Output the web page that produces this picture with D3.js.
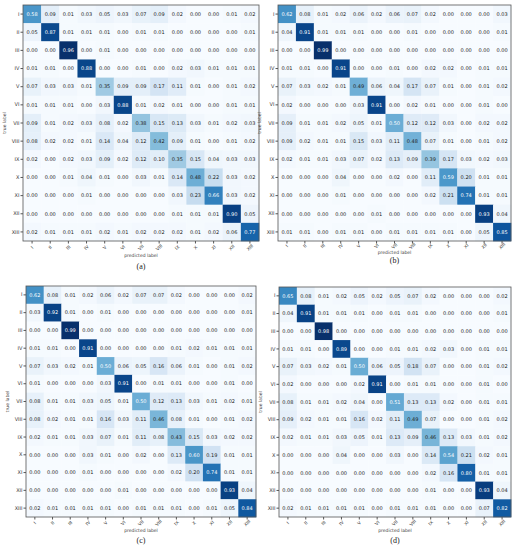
<!DOCTYPE html>
<html>
<head>
<meta charset='utf-8'>
<title>confusion matrices</title>
<script src='https://cdn.jsdelivr.net/npm/d3@7'></script>
<style>
  body { margin: 0; background: #fff; }
  svg text { font-family: 'DejaVu Sans', sans-serif; }
</style>
</head>
<body>
<svg width='517' height='550'></svg>
<script>
// class labels
const labels = ['I', 'II', 'III', 'IV', 'V', 'VI', 'VII', 'VIII', 'IX', 'X', 'XI', 'XII', 'XIII']

// (a)
const matrixA = [
  [0.58, 0.09, 0.01, 0.03, 0.05, 0.03, 0.07, 0.09, 0.02, 0.00, 0.00, 0.01, 0.02],
  [0.05, 0.87, 0.01, 0.01, 0.01, 0.00, 0.01, 0.01, 0.00, 0.00, 0.00, 0.00, 0.01],
  [0.00, 0.00, 0.96, 0.00, 0.01, 0.00, 0.00, 0.00, 0.00, 0.00, 0.00, 0.00, 0.00],
  [0.01, 0.01, 0.00, 0.88, 0.00, 0.00, 0.01, 0.00, 0.02, 0.03, 0.01, 0.01, 0.01],
  [0.07, 0.03, 0.03, 0.01, 0.35, 0.09, 0.09, 0.17, 0.11, 0.01, 0.00, 0.01, 0.02],
  [0.01, 0.01, 0.01, 0.00, 0.03, 0.88, 0.01, 0.02, 0.01, 0.00, 0.00, 0.01, 0.01],
  [0.09, 0.01, 0.02, 0.03, 0.08, 0.02, 0.38, 0.15, 0.13, 0.03, 0.01, 0.02, 0.03],
  [0.08, 0.02, 0.02, 0.01, 0.14, 0.04, 0.12, 0.42, 0.09, 0.01, 0.00, 0.01, 0.02],
  [0.02, 0.00, 0.02, 0.03, 0.09, 0.02, 0.12, 0.10, 0.35, 0.15, 0.04, 0.03, 0.03],
  [0.00, 0.00, 0.01, 0.04, 0.01, 0.00, 0.03, 0.01, 0.14, 0.48, 0.22, 0.03, 0.02],
  [0.00, 0.00, 0.00, 0.01, 0.00, 0.00, 0.00, 0.00, 0.03, 0.23, 0.66, 0.03, 0.02],
  [0.00, 0.00, 0.00, 0.00, 0.00, 0.00, 0.00, 0.00, 0.01, 0.01, 0.01, 0.90, 0.05],
  [0.02, 0.01, 0.01, 0.01, 0.02, 0.01, 0.02, 0.02, 0.02, 0.01, 0.02, 0.06, 0.77]
]

// (b)
const matrixB = [
  [0.62, 0.08, 0.01, 0.02, 0.06, 0.02, 0.06, 0.07, 0.02, 0.00, 0.00, 0.00, 0.03],
  [0.04, 0.91, 0.01, 0.01, 0.01, 0.00, 0.00, 0.01, 0.00, 0.00, 0.00, 0.00, 0.01],
  [0.00, 0.00, 0.99, 0.00, 0.00, 0.00, 0.00, 0.00, 0.00, 0.00, 0.00, 0.00, 0.00],
  [0.01, 0.01, 0.00, 0.91, 0.00, 0.00, 0.01, 0.00, 0.02, 0.02, 0.00, 0.01, 0.01],
  [0.07, 0.03, 0.02, 0.01, 0.49, 0.06, 0.04, 0.17, 0.07, 0.01, 0.00, 0.01, 0.02],
  [0.02, 0.00, 0.00, 0.00, 0.03, 0.91, 0.00, 0.02, 0.01, 0.00, 0.00, 0.01, 0.00],
  [0.09, 0.01, 0.01, 0.02, 0.05, 0.01, 0.50, 0.12, 0.12, 0.03, 0.00, 0.02, 0.02],
  [0.09, 0.02, 0.01, 0.01, 0.15, 0.03, 0.11, 0.48, 0.07, 0.01, 0.00, 0.01, 0.02],
  [0.02, 0.01, 0.01, 0.03, 0.07, 0.02, 0.13, 0.09, 0.39, 0.17, 0.03, 0.02, 0.03],
  [0.00, 0.00, 0.00, 0.04, 0.00, 0.00, 0.02, 0.00, 0.11, 0.59, 0.20, 0.01, 0.01],
  [0.00, 0.00, 0.00, 0.01, 0.00, 0.00, 0.00, 0.00, 0.02, 0.21, 0.74, 0.01, 0.01],
  [0.00, 0.00, 0.00, 0.00, 0.00, 0.01, 0.00, 0.00, 0.00, 0.00, 0.00, 0.93, 0.04],
  [0.01, 0.01, 0.00, 0.01, 0.01, 0.00, 0.01, 0.01, 0.01, 0.01, 0.00, 0.05, 0.85]
]

// (c)
const matrixC = [
  [0.62, 0.08, 0.01, 0.02, 0.06, 0.02, 0.07, 0.07, 0.02, 0.00, 0.00, 0.00, 0.02],
  [0.03, 0.92, 0.01, 0.00, 0.01, 0.00, 0.00, 0.00, 0.00, 0.00, 0.00, 0.00, 0.01],
  [0.00, 0.00, 0.99, 0.00, 0.00, 0.00, 0.00, 0.00, 0.00, 0.00, 0.00, 0.00, 0.00],
  [0.01, 0.01, 0.00, 0.91, 0.00, 0.00, 0.00, 0.00, 0.01, 0.02, 0.01, 0.01, 0.01],
  [0.07, 0.03, 0.02, 0.01, 0.50, 0.06, 0.05, 0.16, 0.06, 0.01, 0.00, 0.01, 0.02],
  [0.01, 0.00, 0.00, 0.00, 0.03, 0.91, 0.00, 0.01, 0.01, 0.00, 0.00, 0.01, 0.00],
  [0.08, 0.01, 0.01, 0.03, 0.05, 0.01, 0.50, 0.12, 0.13, 0.03, 0.01, 0.02, 0.01],
  [0.08, 0.02, 0.01, 0.01, 0.16, 0.03, 0.11, 0.46, 0.08, 0.01, 0.00, 0.01, 0.02],
  [0.02, 0.01, 0.01, 0.03, 0.07, 0.01, 0.11, 0.08, 0.43, 0.15, 0.03, 0.02, 0.02],
  [0.00, 0.00, 0.00, 0.03, 0.01, 0.00, 0.02, 0.00, 0.13, 0.60, 0.19, 0.01, 0.01],
  [0.00, 0.00, 0.00, 0.01, 0.00, 0.00, 0.00, 0.00, 0.02, 0.20, 0.74, 0.01, 0.01],
  [0.00, 0.00, 0.00, 0.00, 0.00, 0.01, 0.00, 0.00, 0.00, 0.00, 0.00, 0.93, 0.04],
  [0.02, 0.01, 0.01, 0.01, 0.01, 0.00, 0.01, 0.01, 0.01, 0.00, 0.01, 0.05, 0.84]
]

// (d)
const matrixD = [
  [0.65, 0.08, 0.01, 0.02, 0.05, 0.02, 0.05, 0.07, 0.02, 0.00, 0.00, 0.00, 0.02],
  [0.04, 0.91, 0.01, 0.01, 0.01, 0.00, 0.01, 0.01, 0.00, 0.00, 0.00, 0.00, 0.01],
  [0.00, 0.00, 0.98, 0.00, 0.00, 0.00, 0.00, 0.00, 0.00, 0.00, 0.00, 0.00, 0.00],
  [0.01, 0.01, 0.00, 0.89, 0.00, 0.00, 0.01, 0.01, 0.02, 0.03, 0.00, 0.01, 0.01],
  [0.07, 0.03, 0.02, 0.01, 0.50, 0.06, 0.05, 0.18, 0.07, 0.00, 0.00, 0.01, 0.02],
  [0.02, 0.00, 0.00, 0.00, 0.02, 0.91, 0.00, 0.01, 0.01, 0.00, 0.00, 0.01, 0.00],
  [0.08, 0.01, 0.01, 0.02, 0.04, 0.00, 0.51, 0.13, 0.13, 0.02, 0.00, 0.01, 0.01],
  [0.09, 0.02, 0.01, 0.01, 0.16, 0.02, 0.11, 0.49, 0.07, 0.00, 0.00, 0.01, 0.02],
  [0.02, 0.01, 0.01, 0.03, 0.05, 0.01, 0.13, 0.09, 0.46, 0.13, 0.03, 0.01, 0.02],
  [0.00, 0.00, 0.00, 0.04, 0.00, 0.00, 0.03, 0.00, 0.14, 0.54, 0.21, 0.02, 0.01],
  [0.00, 0.00, 0.00, 0.00, 0.00, 0.00, 0.00, 0.00, 0.02, 0.16, 0.80, 0.01, 0.01],
  [0.00, 0.00, 0.00, 0.00, 0.00, 0.00, 0.00, 0.00, 0.01, 0.00, 0.00, 0.93, 0.04],
  [0.02, 0.01, 0.01, 0.01, 0.01, 0.00, 0.01, 0.01, 0.01, 0.00, 0.00, 0.07, 0.82]
]

const captions = ['(a)', '(b)', '(c)', '(d)']

// where each panel sits (heat map box, then offsets below it for tick labels, axis label, caption)
const panels = [
  { m: matrixA, cap: captions[0], x: 23, y: 5, w: 236, h: 236, tickY: 6.5, labY: 16, capY: 28 },
  { m: matrixB, cap: captions[1], x: 278, y: 5, w: 233, h: 236, tickY: 5, labY: 12.5, capY: 22 },
  { m: matrixC, cap: captions[2], x: 26, y: 286, w: 230, h: 231, tickY: 6, labY: 14.5, capY: 26 },
  { m: matrixD, cap: captions[3], x: 279, y: 287, w: 232, h: 230, tickY: 6, labY: 14.5, capY: 26 }
]

const svg = d3.select('svg')
const fmt = d3.format('.2f')

function drawPanel(p) {
  const g = svg.append('g').attr('transform', `translate(${p.x}, ${p.y})`)
  const x = d3.scaleBand().domain(labels).range([0, p.w])
  const y = d3.scaleBand().domain(labels).range([0, p.h])
  const maxV = d3.max(p.m.flat())
  const color = d3.scaleSequential(d3.interpolateBlues).domain([0, maxV])

  const cells = []
  p.m.forEach((row, i) => row.forEach((v, j) => cells.push({ r: labels[i], c: labels[j], v })))

  g.selectAll('rect.cell').data(cells).enter().append('rect')
    .attr('class', 'cell')
    .attr('x', d => x(d.c))
    .attr('y', d => y(d.r))
    .attr('width', x.bandwidth() + 0.3)
    .attr('height', y.bandwidth() + 0.3)
    .attr('fill', d => color(d.v))

  g.selectAll('text.val').data(cells).enter().append('text')
    .attr('class', 'val')
    .attr('x', d => x(d.c) + x.bandwidth() / 2)
    .attr('y', d => y(d.r) + y.bandwidth() / 2)
    .attr('dy', '0.35em')
    .attr('text-anchor', 'middle')
    .style('font-size', '5px')
    .attr('fill', d => d.v > maxV / 2 ? '#fff' : '#222')
    .text(d => fmt(d.v))

  // frame
  g.append('rect').attr('width', p.w).attr('height', p.h)
    .attr('fill', 'none').attr('stroke', '#555').attr('stroke-width', 0.8)

  // y axis
  const gy = g.append('g').call(d3.axisLeft(y).tickSize(2.5).tickPadding(1))
  gy.select('.domain').remove()
  gy.selectAll('line').attr('stroke', '#555')
  gy.selectAll('text').style('font-size', '5px').attr('fill', '#333')

  // x axis, labels turned 45 degrees
  const gx = g.append('g').attr('transform', `translate(0, ${p.h})`)
    .call(d3.axisBottom(x).tickSize(2.5).tickPadding(1))
  gx.select('.domain').remove()
  gx.selectAll('line').attr('stroke', '#555')
  gx.selectAll('text')
    .attr('y', 0).attr('dy', '0.35em')
    .attr('text-anchor', 'middle')
    .attr('transform', `translate(0, ${p.tickY}) rotate(-45)`)
    .style('font-size', '4.5px').attr('fill', '#333')

  g.append('text')
    .attr('x', p.w / 2).attr('y', p.h + p.labY)
    .attr('text-anchor', 'middle')
    .style('font-size', '4.5px').attr('fill', '#444')
    .text('predicted label')

  g.append('text')
    .attr('transform', `translate(${-17}, ${p.h / 2}) rotate(-90)`)
    .attr('text-anchor', 'middle')
    .style('font-size', '4.5px').attr('fill', '#444')
    .text('true label')

  g.append('text')
    .attr('x', p.w / 2).attr('y', p.h + p.capY)
    .attr('text-anchor', 'middle')
    .style('font-family', "'Liberation Serif', serif")
    .style('font-size', '8px').attr('fill', '#222')
    .text(p.cap)
}

panels.forEach(drawPanel)
</script>
</body>
</html>
